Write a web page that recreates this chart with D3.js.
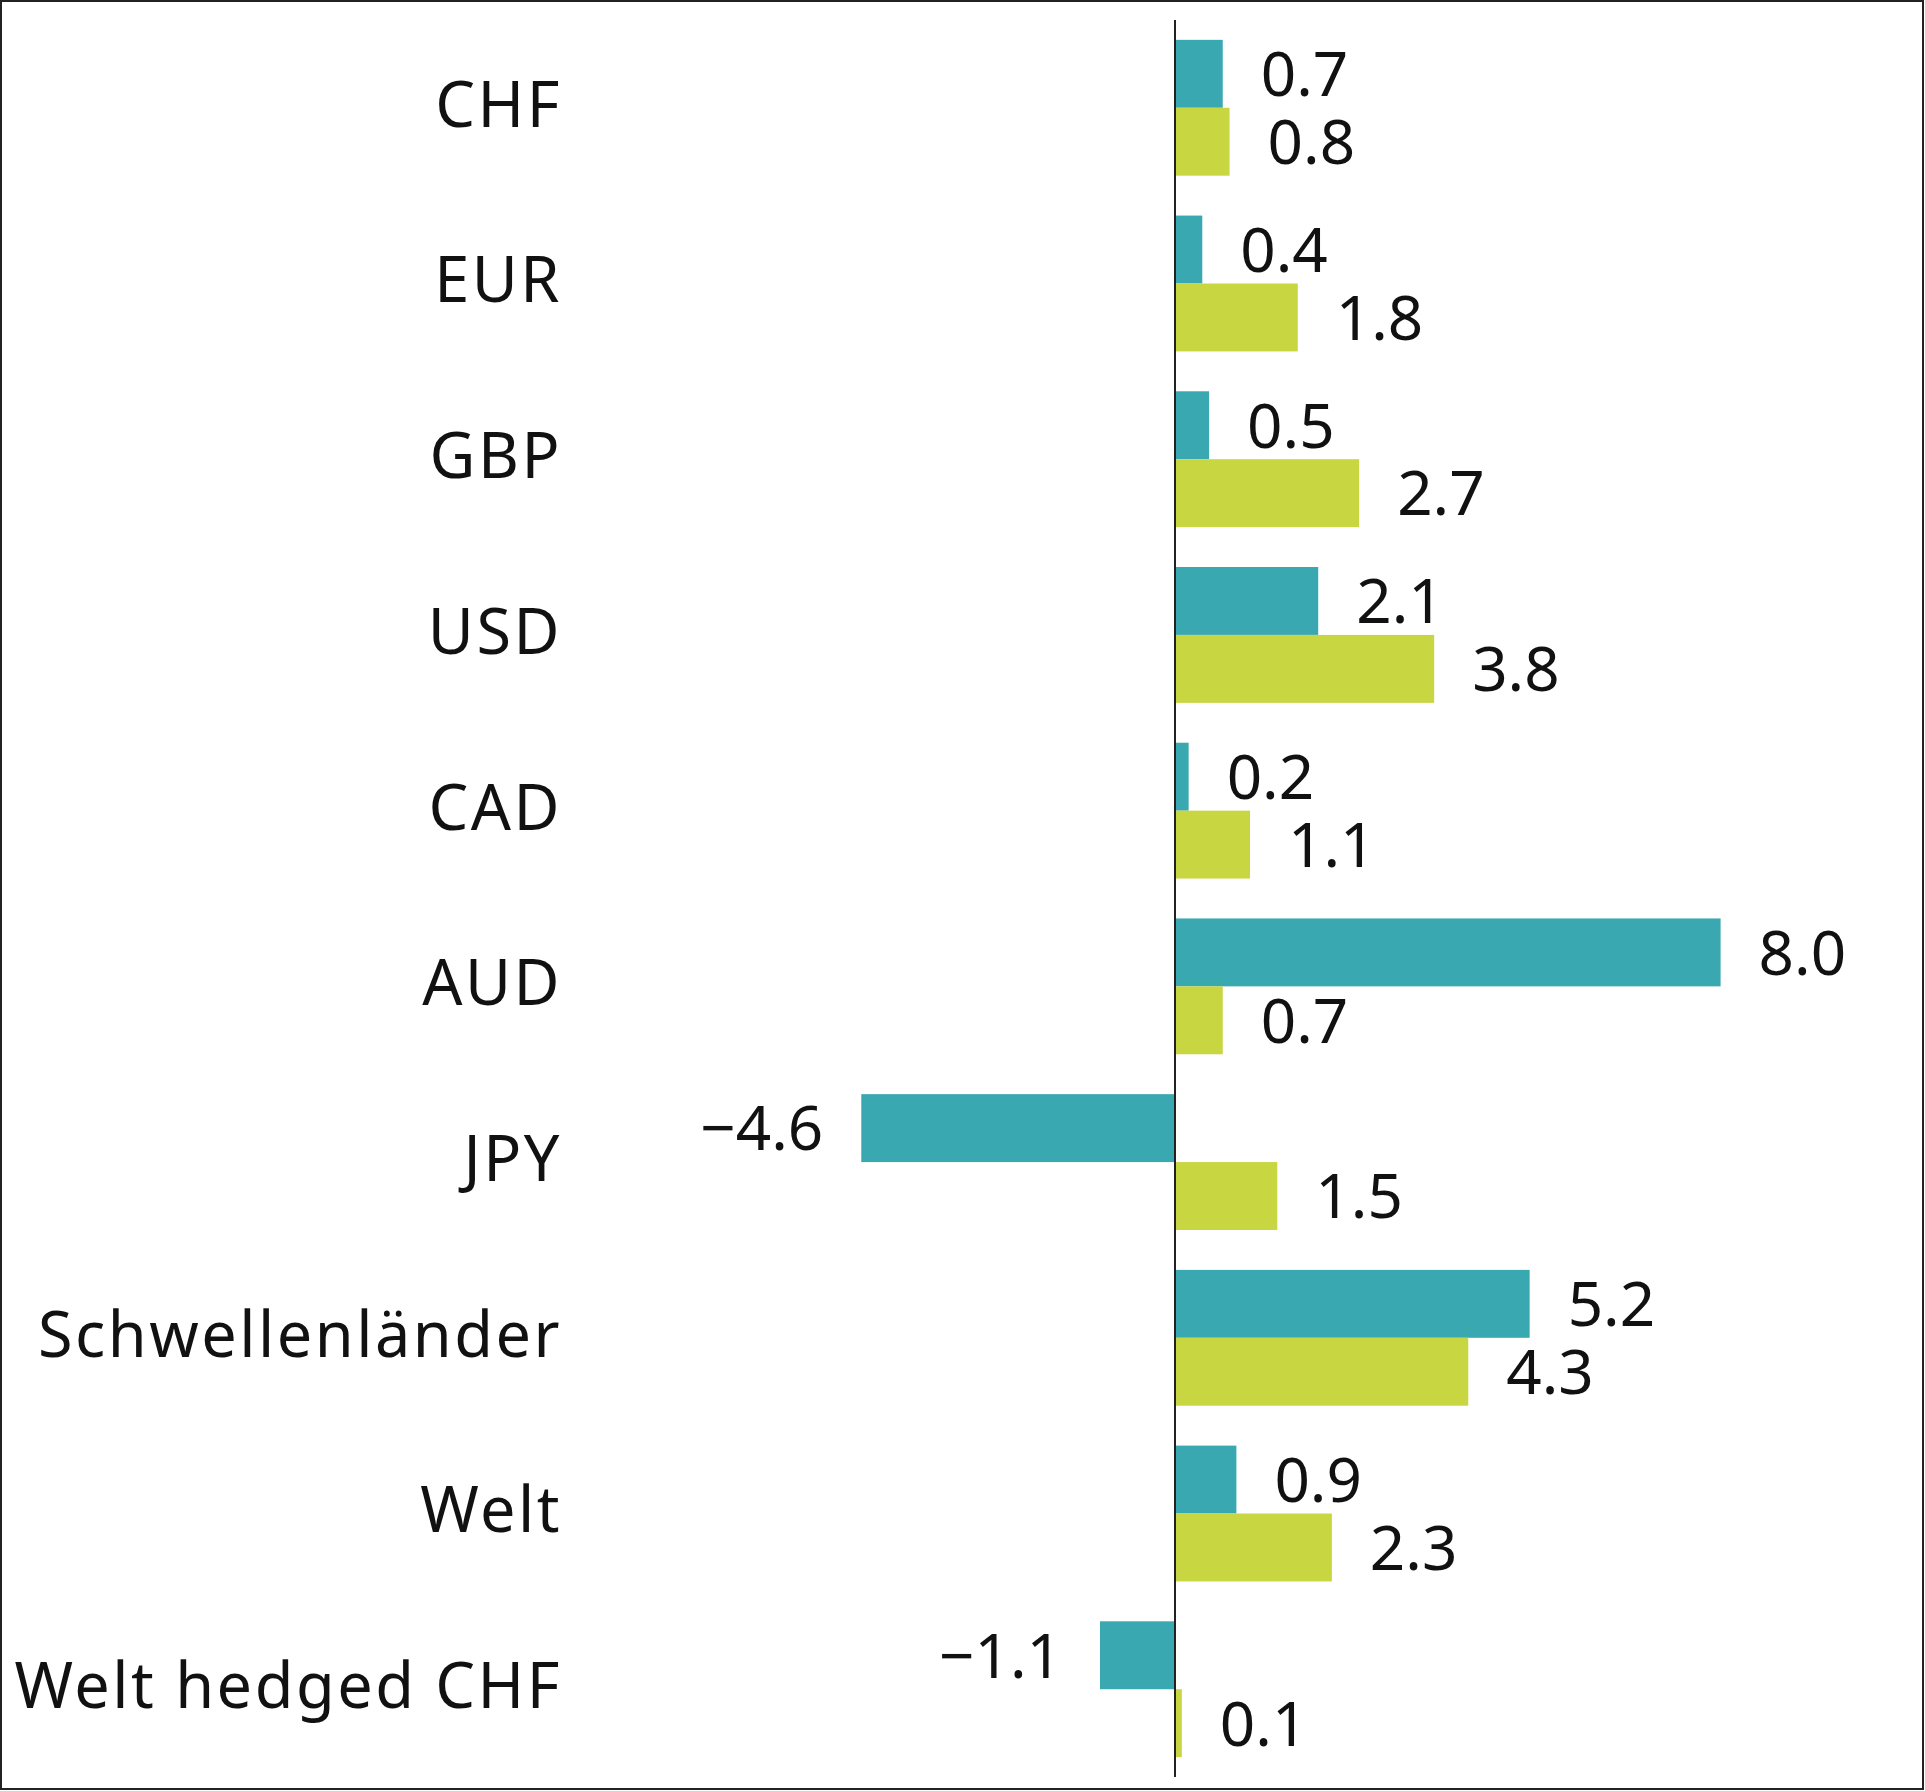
<!DOCTYPE html>
<html>
<head>
<meta charset="utf-8">
<script src="https://cdn.jsdelivr.net/npm/d3@7"></script>
<style>
  body { margin: 0; background: #fff; }
  svg { display: block; }
  text { font-family: "Noto Sans", sans-serif; fill: #111; }
</style>
</head>
<body>
<svg width="1925" height="1791"></svg>
<script>
// categories and the two series (top bar = teal, bottom bar = lime)
const categories = ["CHF", "EUR", "GBP", "USD", "CAD", "AUD", "JPY", "Schwellenländer", "Welt", "Welt hedged CHF"];
const seriesNames = ["serieA", "serieB"];
const serieA = [0.7, 0.4, 0.5, 2.1, 0.2, 8.0, -4.6, 5.2, 0.9, -1.1];
const serieB = [0.8, 1.8, 2.7, 3.8, 1.1, 0.7, 1.5, 4.3, 2.3, 0.1];
const colors = ["#3aa8b0", "#c8d641"];

const W = 1925, H = 1791;
const svg = d3.select("svg");

// frame
svg.append("rect")
    .attr("x", 1).attr("y", 1)
    .attr("width", W - 3).attr("height", H - 3)
    .attr("fill", "none")
    .attr("stroke", "#222")
    .attr("stroke-width", 2);

const x = d3.scaleLinear()
    .domain([-5, 8])
    .range([1175 - 5 * 68.2, 1175 + 8 * 68.2]);

const y = d3.scaleBand()
    .domain(categories)
    .range([20, 1777])
    .paddingInner(0.227)
    .paddingOuter(0.113);

const ySub = d3.scaleBand()
    .domain(seriesNames)
    .range([0, y.bandwidth()]);

const rows = categories.map((c, i) => ({ cat: c, vals: [serieA[i], serieB[i]] }));

const groups = svg.selectAll(".grp")
    .data(rows)
    .enter()
    .append("g")
    .attr("class", "grp")
    .attr("transform", d => `translate(0,${y(d.cat)})`);

const bars = groups.selectAll(".bar")
    .data(d => d.vals.map((v, j) => ({ key: seriesNames[j], v: v, j: j })))
    .enter();

bars.append("rect")
    .attr("class", "bar")
    .attr("x", d => x(Math.min(0, d.v)))
    .attr("y", d => ySub(d.key))
    .attr("width", d => Math.abs(x(d.v) - x(0)))
    .attr("height", ySub.bandwidth())
    .attr("fill", d => colors[d.j]);

const fmt = v => (v < 0 ? "\u2212" : "") + Math.abs(v).toFixed(1);

bars.append("text")
    .attr("x", d => d.v < 0 ? x(d.v) - 38 : x(d.v) + 38)
    .attr("y", d => ySub(d.key) + ySub.bandwidth() / 2)
    .attr("dy", "0.36em")
    .attr("text-anchor", d => d.v < 0 ? "end" : "start")
    .style("font-size", "62px")
    .text(d => fmt(d.v));

// category labels (a bit of tracking to get closer to the wide original face)
groups.append("text")
    .attr("x", 562)
    .attr("y", y.bandwidth() / 2)
    .attr("dy", "0.3em")
    .attr("text-anchor", "end")
    .style("font-size", "63px")
    .style("letter-spacing", "2.5px")
    .text(d => d.cat);

// zero line
svg.append("line")
    .attr("x1", x(0)).attr("x2", x(0))
    .attr("y1", 20).attr("y2", 1777)
    .attr("stroke", "#222")
    .attr("stroke-width", 2);
</script>
</body>
</html>
